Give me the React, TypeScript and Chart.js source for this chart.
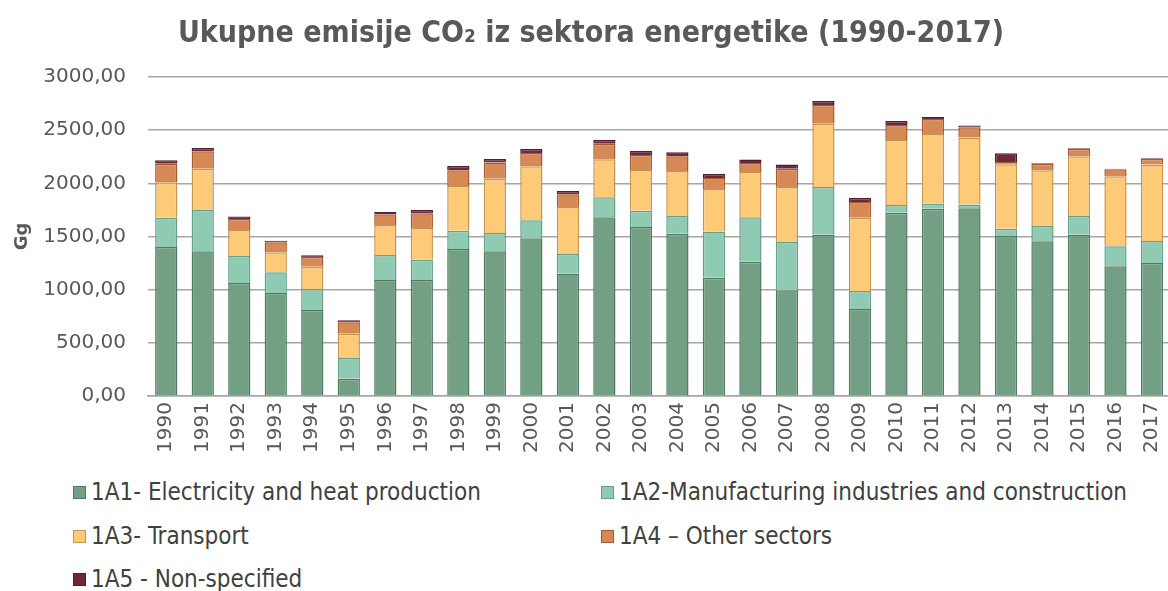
import React, { useEffect, useRef } from "react";
import { Chart, registerables } from "chart.js";

Chart.register(...registerables);

const years = ["1990","1991","1992","1993","1994","1995","1996","1997","1998","1999","2000","2001","2002","2003","2004","2005","2006","2007","2008","2009","2010","2011","2012","2013","2014","2015","2016","2017"];

const s1A1 = [1401,1361,1063,969,809,163,1091,1091,1383,1361,1483,1151,1680,1589,1527,1113,1263,994,1517,818,1724,1762,1765,1505,1455,1517,1220,1251];
const s1A2 = [276,388,254,194,197,194,235,191,172,172,169,185,188,154,166,433,417,454,449,170,72,47,35,69,144,176,188,207];
const s1A3 = [333,389,244,188,210,229,282,298,420,511,508,442,358,383,423,401,427,518,595,689,612,655,630,605,523,561,658,718];
const s1A4 = [175,163,104,94,91,107,101,138,147,151,125,119,147,141,138,103,84,172,176,148,141,141,97,22,63,72,66,56];
const s1A5 = [31,31,22,16,16,19,22,31,41,34,38,31,35,40,38,38,32,38,37,37,37,19,16,81,6,6,6,6];

const seriesNames = [
  "1A1- Electricity and heat production",
  "1A2-Manufacturing industries and construction",
  "1A3- Transport",
  "1A4 – Other sectors",
  "1A5 - Non-specified",
];
const fills = ["#73a084", "#8fcab3", "#fdca78", "#d68955", "#6f2837"];
const borders = ["#4f7a5f", "#65a08b", "#c4954f", "#a25a2e", "#4f1e28"];

const TEXT = "#595959";

export default function App() {
  const ref = useRef<HTMLCanvasElement | null>(null);

  useEffect(() => {
    if (!ref.current) return;
    const values = [s1A1, s1A2, s1A3, s1A4, s1A5];
    const chart = new Chart(ref.current, {
      type: "bar",
      data: {
        labels: years,
        datasets: values.map((d, i) => ({
          label: seriesNames[i],
          data: d,
          backgroundColor: fills[i],
          borderColor: borders[i],
          borderWidth: 1.5,
          barPercentage: 0.61,
          categoryPercentage: 1.0,
        })),
      },
      options: {
        responsive: false,
        animation: false,
        layout: { padding: { left: 0, right: 0, top: 0, bottom: 0 } },
        plugins: {
          legend: { display: false },
          tooltip: { enabled: false },
          title: {
            display: true,
            text: "Ukupne emisije CO₂ iz sektora energetike (1990-2017)",
            color: TEXT,
            font: { family: "'DejaVu Sans Condensed', 'DejaVu Sans'", size: 30, weight: "bold", lineHeight: 1.2 },
            padding: { top: 16, bottom: 25 },
          },
        },
        scales: {
          x: {
            stacked: true,
            grid: { display: false, drawTicks: false },
            border: { display: true, color: "#a6a6a6", width: 1.5 },
            ticks: {
              color: TEXT,
              font: { family: "'DejaVu Sans'", size: 20 },
              maxRotation: 90,
              minRotation: 90,
              padding: 6,
              autoSkip: false,
            },
            afterFit: (s: any) => { s.height = 64; },
          },
          y: {
            stacked: true,
            min: 0,
            max: 3000,
            grid: { color: "#a6a6a6", lineWidth: 1.5, drawTicks: false },
            border: { display: false },
            ticks: {
              stepSize: 500,
              color: TEXT,
              padding: 22,
              font: { family: "'DejaVu Sans'", size: 20 },
              callback: (v: any) => Number(v).toFixed(2).replace(".", ","),
            },
            title: {
              display: true,
              text: "Gg",
              color: TEXT,
              font: { family: "'DejaVu Sans'", size: 18, weight: "bold" },
              padding: { top: 12, bottom: 0 },
            },
            afterFit: (s: any) => { s.width = 148; },
          },
        },
      },
    });
    return () => chart.destroy();
  }, []);

  const legendRows: number[][] = [[0, 1], [2, 3], [4]];
  const colX = [73, 601];
  const rowY = [492, 536, 579];

  return (
    <div style={{ position: "fixed", left: 0, top: 0, width: 1168, height: 591, overflow: "hidden", background: "#fff" }}>
      <canvas ref={ref} width={1182} height={460} style={{ position: "absolute", left: 0, top: 0 }} />
      {legendRows.map((row, r) =>
        row.map((idx, c) => (
          <div
            key={idx}
            style={{
              position: "absolute",
              left: colX[c],
              top: rowY[r] - 15,
              height: 30,
              display: "flex",
              alignItems: "center",
              whiteSpace: "nowrap",
              fontFamily: "'DejaVu Sans Condensed', 'DejaVu Sans', sans-serif",
              fontSize: 24,
              color: "#404040",
            }}
          >
            <span
              style={{
                display: "inline-block",
                boxSizing: "border-box",
                width: 13,
                height: 13,
                background: fills[idx],
                border: `1.5px solid ${borders[idx]}`,
                marginRight: 5,
              }}
            />
            <span>{seriesNames[idx]}</span>
          </div>
        ))
      )}
    </div>
  );
}
